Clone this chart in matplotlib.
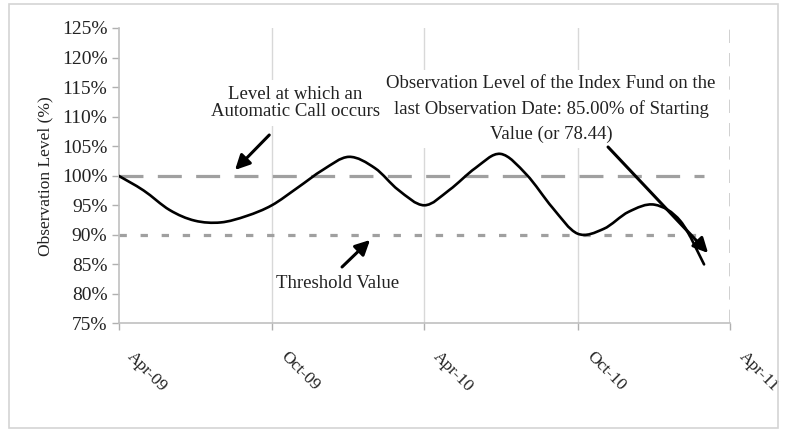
import matplotlib
import numpy as np

matplotlib.use("Agg")
import matplotlib.pyplot as plt
import matplotlib.dates as mdates
import matplotlib.transforms as mtransforms
from matplotlib.patches import Rectangle, PathPatch
from matplotlib.path import Path

# monthly observation levels (%), Apr-09 .. Mar-11
dates = np.arange(np.datetime64("2009-04"), np.datetime64("2011-04"),
                  dtype="datetime64[M]").astype("datetime64[D]")
levels = [100.0, 97.5, 94.2, 92.4, 92.1, 93.2, 95.0, 98.0, 101.0, 103.2,
          101.3, 97.6, 95.0, 97.6, 101.3, 103.7, 100.2, 94.6, 90.2, 91.0,
          93.9, 95.1, 92.3, 85.0]
call_level = 100
threshold = 90
tick_dates = np.array(["2009-04-01", "2009-10-01", "2010-04-01",
                       "2010-10-01", "2011-04-01"], dtype="datetime64[D]")
tick_labels = ["Apr-09", "Oct-09", "Apr-10", "Oct-10", "Apr-11"]
y_ticks = list(range(75, 130, 5))

plt.rcParams['font.family'] = ['Liberation Serif', 'DejaVu Serif']
txt_color = "#222222"


def smooth_path(x, y):
    # Excel-style smoothed line: bezier segments through every data point
    p = np.column_stack([x, y])
    q = np.vstack([p[:1], p, p[-1:]])
    verts = [p[0]]
    codes = [Path.MOVETO]
    for i in range(len(p) - 1):
        c1 = q[i + 1] + (q[i + 2] - q[i]) / 6
        c2 = q[i + 2] - (q[i + 3] - q[i + 1]) / 6
        verts += [c1, c2, q[i + 2]]
        codes += [Path.CURVE4] * 3
    return Path(verts, codes)


fig = plt.figure(figsize=(7.86, 4.30), dpi=100)
fig.patches.append(Rectangle((9 / 786, 2 / 430), 769 / 786, 424 / 430,
                             transform=fig.transFigure, fill=False,
                             edgecolor="#d4d4d4", lw=1.2))
ax = fig.add_axes([0.1508, 0.2477, 0.778, 0.6872])

# vertical gridlines
for d in tick_dates[1:-1]:
    ax.axvline(d, color="#d8d8d8", lw=1.0, zorder=0)
ax.axvline(tick_dates[-1], color="#c8c8c8", lw=1.2, ls=(0, (8, 6)), zorder=0)

ax.hlines(call_level, dates[0], dates[-1], color="#a0a0a0", lw=2.3,
          linestyles=[(0, (7.5, 4.5))], zorder=1)
ax.hlines(threshold, dates[0], dates[-1], color="#a0a0a0", lw=2.3,
          linestyles=[(0, (2.3, 4.3))], zorder=1)
xnum = mdates.date2num(dates)
ax.add_patch(PathPatch(smooth_path(xnum, levels), fill=False,
                       edgecolor="black", lw=1.9, zorder=3,
                       capstyle="round", joinstyle="round"))

ax.set_xlim(tick_dates[0], tick_dates[-1])
ax.set_ylim(75, 125)
ax.set_yticks(y_ticks)
ax.set_yticklabels([f"{v}%" for v in y_ticks], color=txt_color)
ax.set_xticks(tick_dates)
ax.set_xticklabels([])
# rotated date labels, offset down-right from each tick
lab_tr = ax.get_xaxis_transform() + mtransforms.ScaledTranslation(
    0.17, -0.25, fig.dpi_scale_trans)
for d, lab in zip(tick_dates, tick_labels):
    ax.text(d, 0, lab, transform=lab_tr, rotation=-45, ha="left", va="top",
            rotation_mode="anchor", fontsize=12.5, color=txt_color,
            clip_on=False)
ax.tick_params(axis="both", color="#b0b0b0", length=5, width=1)
ax.tick_params(axis="y", pad=3, labelsize=14)
for s in ["top", "right"]:
    ax.spines[s].set_visible(False)
for s in ["left", "bottom"]:
    ax.spines[s].set_color("#c0c0c0")
    ax.spines[s].set_linewidth(1.2)
ax.set_ylabel("Observation Level (%)", fontsize=12.5, color=txt_color,
              labelpad=6)

arrow = dict(arrowstyle="-|>", lw=2.2, color="black", mutation_scale=22,
             shrinkA=0, shrinkB=0)
box = dict(facecolor="white", edgecolor="none", pad=4)
ax.text(0.2886, 0.746, "Level at which an\nAutomatic Call occurs",
        transform=ax.transAxes, ha="center", va="center", fontsize=13.5,
        color=txt_color, linespacing=1.0, bbox=box, zorder=2)
ax.annotate("", xy=(0.1905, 0.5195), xytext=(0.2465, 0.6379),
            xycoords="axes fraction", arrowprops=arrow)
ax.text(0.359, 0.1337, "Threshold Value", transform=ax.transAxes,
        ha="center", va="center", fontsize=13.5, color=txt_color)
ax.annotate("", xy=(0.4113, 0.2826), xytext=(0.3655, 0.1912),
            xycoords="axes fraction", arrowprops=arrow)
ax.text(0.7073, 0.7259,
        "Observation Level of the Index Fund on the\n"
        "last Observation Date: 85.00% of Starting\n"
        "Value (or 78.44)",
        transform=ax.transAxes, ha="center", va="center", fontsize=13.5,
        color=txt_color, linespacing=1.55, bbox=box, zorder=2)
ax.annotate("", xy=(0.9641, 0.2386), xytext=(0.8005, 0.5973),
            xycoords="axes fraction", arrowprops=arrow)

plt.savefig("out.png", dpi=100)
plt.close()
